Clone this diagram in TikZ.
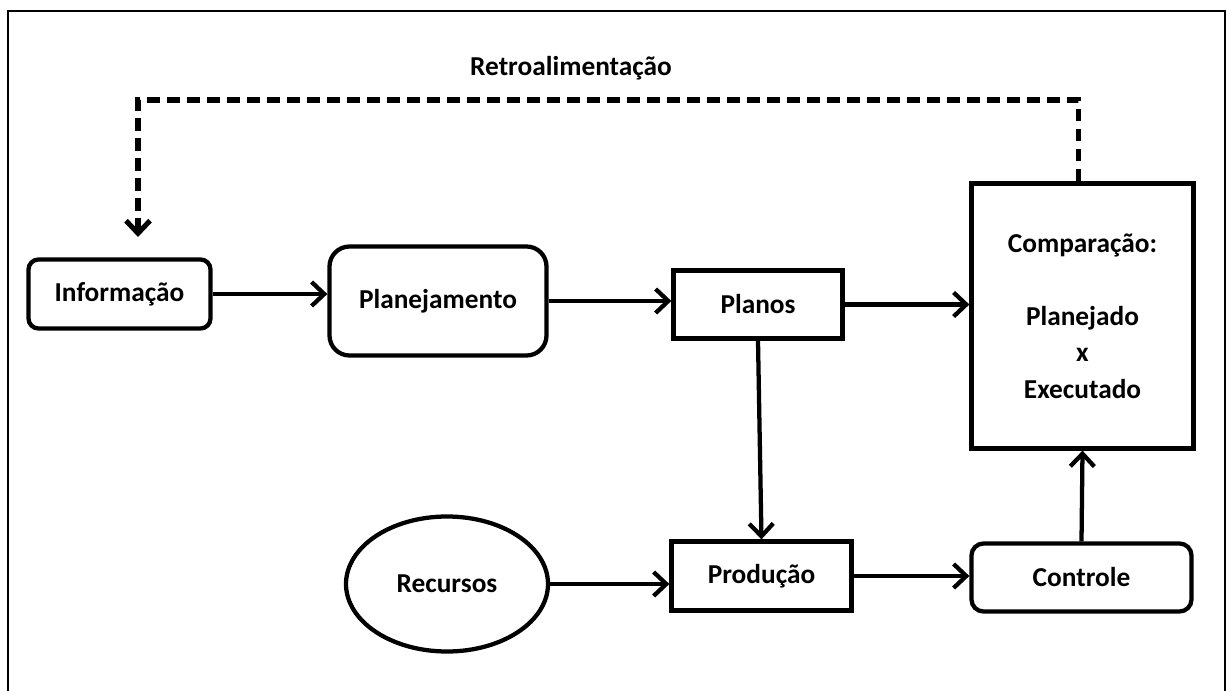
\documentclass[tikz,border=0pt]{standalone}
\usepackage{fontspec}
\setmainfont{Carlito}
\usetikzlibrary{arrows.meta,shapes.geometric}
\newlength\pxu
\setlength\pxu{0.75pt}
\begin{document}
\begin{tikzpicture}[
  x=0.75pt, y=-0.75pt,
  label text/.style={font=\bfseries\fontsize{20.5}{27.4}\selectfont, text=black},
  boxbase/.style={draw, line width=3.2pt, label text, inner sep=0pt, align=center},
  sqbox/.style={boxbase, rectangle},
  rbox/.style={boxbase, rectangle, rounded corners=#1},
  oval/.style={boxbase, ellipse},
  flow/.style={line width=3.2pt, -{Straight Barb[length=9.5pt, width=18pt]}},
  feedback/.style={line width=3.8pt, dash pattern=on 9.5pt off 5.5pt,
    -{Straight Barb[length=9.5pt, width=18pt]}},
]
\useasboundingbox (0,0) rectangle (1227,691);

% open outer frame
\draw[line width=2pt] (8,691) -- (8,11) -- (1225,11) -- (1225,691);

% blocks
\node[rbox=10\pxu, minimum width=182\pxu, minimum height=69\pxu] (info) at (119.5,294) {Informação};
\node[rbox=20\pxu, minimum width=217\pxu, minimum height=109\pxu] (plan) at (438,301) {Planejamento};
\node[sqbox, minimum width=169\pxu, minimum height=68\pxu] (planos) at (758,304.5) {Planos};
\node[sqbox, minimum width=222\pxu, minimum height=265\pxu] (comp) at (1082.5,316)
  {Comparação:\\ \\Planejado\\x\\Executado};
\node[oval, minimum width=202\pxu, minimum height=135\pxu] (rec) at (447,584) {Recursos};
\node[sqbox, minimum width=180\pxu, minimum height=69\pxu] (prod) at (761.5,576) {Produção};
\node[rbox=12\pxu, minimum width=220\pxu, minimum height=68\pxu] (ctrl) at (1081.5,577.5) {Controle};

\node[label text] (fbtitle) at (571,68) {Retroalimentação};

% forward flow
\draw[flow] (info.east) -- (info.east -| plan.west);
\draw[flow] (plan.east) -- (plan.east -| planos.west);
\draw[flow] (planos.east) -- (planos.east -| comp.west);
\draw[flow] (planos.south) -- (prod.north);
\draw[flow] (rec.east) -- (rec.east -| prod.west);
\draw[flow] (prod.east) -- (prod.east -| ctrl.west);
\draw[flow] (ctrl.north) -- (comp.south);

% feedback loop
\coordinate (fbtip) at (138,237);
\draw[feedback] ([xshift=-4\pxu]comp.north) |- (fbtip |- 0,100) -- (fbtip);
\end{tikzpicture}
\end{document}
